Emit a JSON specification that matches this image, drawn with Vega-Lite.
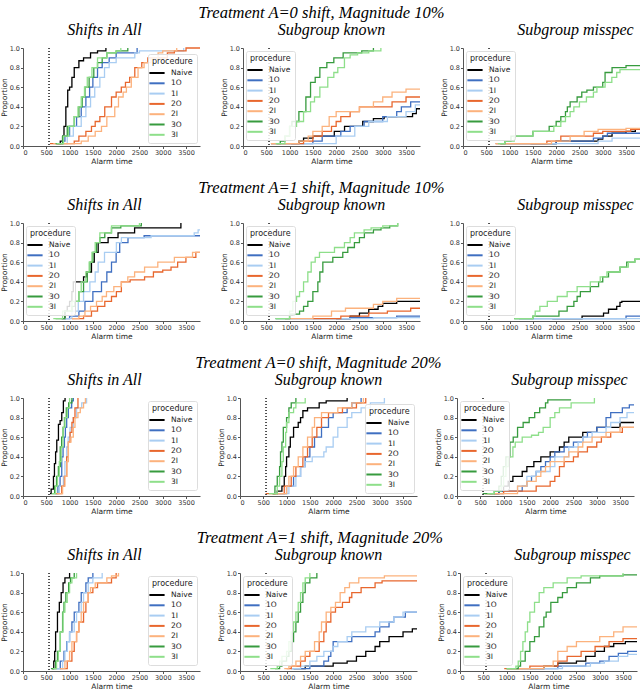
{
  "$schema": "https://vega.github.io/schema/vega-lite/v6.json",
  "padding": {"left": 0, "right": 0, "top": 4, "bottom": 0},
  "background": "white",
  "spacing": 14,
  "datasets": {
    "d11": [
      {"p":"Naive","x":720,"y":0.025},{"p":"Naive","x":800,"y":0.05},{"p":"Naive","x":850,"y":0.1},{"p":"Naive","x":880,"y":0.2},{"p":"Naive","x":920,"y":0.4},{"p":"Naive","x":960,"y":0.57},{"p":"Naive","x":1000,"y":0.6},{"p":"Naive","x":1050,"y":0.7},{"p":"Naive","x":1100,"y":0.8},{"p":"Naive","x":1200,"y":0.87},{"p":"Naive","x":1300,"y":0.9},{"p":"Naive","x":1450,"y":0.95},{"p":"Naive","x":1600,"y":0.97},{"p":"Naive","x":1780,"y":1},
      {"p":"1O","x":760,"y":0.025},{"p":"1O","x":850,"y":0.05},{"p":"1O","x":900,"y":0.1},{"p":"1O","x":1000,"y":0.2},{"p":"1O","x":1150,"y":0.3},{"p":"1O","x":1250,"y":0.4},{"p":"1O","x":1350,"y":0.5},{"p":"1O","x":1430,"y":0.6},{"p":"1O","x":1500,"y":0.7},{"p":"1O","x":1600,"y":0.8},{"p":"1O","x":1700,"y":0.85},{"p":"1O","x":1850,"y":0.9},{"p":"1O","x":2000,"y":0.95},{"p":"1O","x":2450,"y":1},
      {"p":"1I","x":800,"y":0.025},{"p":"1I","x":950,"y":0.1},{"p":"1I","x":1080,"y":0.2},{"p":"1I","x":1250,"y":0.3},{"p":"1I","x":1350,"y":0.4},{"p":"1I","x":1450,"y":0.5},{"p":"1I","x":1540,"y":0.6},{"p":"1I","x":1650,"y":0.7},{"p":"1I","x":1750,"y":0.8},{"p":"1I","x":1850,"y":0.85},{"p":"1I","x":2000,"y":0.9},{"p":"1I","x":2400,"y":0.95},{"p":"1I","x":2500,"y":0.97},{"p":"1I","x":3450,"y":1},
      {"p":"2O","x":580,"y":0.025},{"p":"2O","x":1100,"y":0.05},{"p":"2O","x":1200,"y":0.1},{"p":"2O","x":1350,"y":0.15},{"p":"2O","x":1470,"y":0.2},{"p":"2O","x":1550,"y":0.25},{"p":"2O","x":1650,"y":0.3},{"p":"2O","x":1755,"y":0.4},{"p":"2O","x":1900,"y":0.5},{"p":"2O","x":2000,"y":0.55},{"p":"2O","x":2110,"y":0.6},{"p":"2O","x":2200,"y":0.65},{"p":"2O","x":2290,"y":0.7},{"p":"2O","x":2400,"y":0.8},{"p":"2O","x":2550,"y":0.85},{"p":"2O","x":2680,"y":0.9},{"p":"2O","x":3100,"y":0.95},{"p":"2O","x":3250,"y":0.97},{"p":"2O","x":3500,"y":1},{"p":"2O","x":3800,"y":1},
      {"p":"2I","x":650,"y":0.025},{"p":"2I","x":1250,"y":0.05},{"p":"2I","x":1400,"y":0.1},{"p":"2I","x":1550,"y":0.15},{"p":"2I","x":1685,"y":0.2},{"p":"2I","x":1800,"y":0.3},{"p":"2I","x":1970,"y":0.4},{"p":"2I","x":2050,"y":0.5},{"p":"2I","x":2150,"y":0.55},{"p":"2I","x":2220,"y":0.6},{"p":"2I","x":2325,"y":0.7},{"p":"2I","x":2470,"y":0.8},{"p":"2I","x":2600,"y":0.85},{"p":"2I","x":2750,"y":0.9},{"p":"2I","x":2900,"y":0.95},{"p":"2I","x":3000,"y":0.97},{"p":"2I","x":3300,"y":1},
      {"p":"3O","x":700,"y":0.025},{"p":"3O","x":850,"y":0.1},{"p":"3O","x":950,"y":0.2},{"p":"3O","x":1100,"y":0.3},{"p":"3O","x":1200,"y":0.4},{"p":"3O","x":1270,"y":0.5},{"p":"3O","x":1330,"y":0.6},{"p":"3O","x":1420,"y":0.7},{"p":"3O","x":1520,"y":0.8},{"p":"3O","x":1600,"y":0.85},{"p":"3O","x":1700,"y":0.9},{"p":"3O","x":1800,"y":0.95},{"p":"3O","x":2000,"y":0.97},{"p":"3O","x":2250,"y":1},
      {"p":"3I","x":720,"y":0.025},{"p":"3I","x":870,"y":0.1},{"p":"3I","x":980,"y":0.2},{"p":"3I","x":1100,"y":0.3},{"p":"3I","x":1180,"y":0.4},{"p":"3I","x":1250,"y":0.5},{"p":"3I","x":1320,"y":0.6},{"p":"3I","x":1380,"y":0.7},{"p":"3I","x":1480,"y":0.8},{"p":"3I","x":1600,"y":0.9},{"p":"3I","x":1800,"y":0.95},{"p":"3I","x":2000,"y":0.97},{"p":"3I","x":2100,"y":1}
    ],
    "d12": [
      {"p":"Naive","x":1035,"y":0.025},{"p":"Naive","x":1200,"y":0.05},{"p":"Naive","x":1300,"y":0.08},{"p":"Naive","x":1500,"y":0.1},{"p":"Naive","x":1960,"y":0.15},{"p":"Naive","x":2180,"y":0.2},{"p":"Naive","x":2570,"y":0.25},{"p":"Naive","x":2800,"y":0.28},{"p":"Naive","x":3030,"y":0.3},{"p":"Naive","x":3640,"y":0.33},{"p":"Naive","x":3720,"y":0.38},{"p":"Naive","x":3800,"y":0.38},
      {"p":"1O","x":600,"y":0.025},{"p":"1O","x":1500,"y":0.05},{"p":"1O","x":1700,"y":0.1},{"p":"1O","x":2100,"y":0.15},{"p":"1O","x":2300,"y":0.2},{"p":"1O","x":2600,"y":0.25},{"p":"1O","x":3000,"y":0.3},{"p":"1O","x":3300,"y":0.35},{"p":"1O","x":3400,"y":0.4},{"p":"1O","x":3600,"y":0.45},{"p":"1O","x":3800,"y":0.45},
      {"p":"1I","x":800,"y":0.025},{"p":"1I","x":2000,"y":0.1},{"p":"1I","x":2400,"y":0.2},{"p":"1I","x":2700,"y":0.25},{"p":"1I","x":3100,"y":0.3},{"p":"1I","x":3500,"y":0.35},{"p":"1I","x":3700,"y":0.42},{"p":"1I","x":3800,"y":0.42},
      {"p":"2O","x":600,"y":0.025},{"p":"2O","x":1300,"y":0.05},{"p":"2O","x":1500,"y":0.1},{"p":"2O","x":1700,"y":0.15},{"p":"2O","x":1900,"y":0.2},{"p":"2O","x":2000,"y":0.25},{"p":"2O","x":2100,"y":0.3},{"p":"2O","x":2300,"y":0.35},{"p":"2O","x":2500,"y":0.4},{"p":"2O","x":3200,"y":0.45},{"p":"2O","x":3500,"y":0.5},{"p":"2O","x":3800,"y":0.5},
      {"p":"2I","x":600,"y":0.025},{"p":"2I","x":1200,"y":0.05},{"p":"2I","x":1400,"y":0.1},{"p":"2I","x":1500,"y":0.15},{"p":"2I","x":1700,"y":0.2},{"p":"2I","x":1850,"y":0.3},{"p":"2I","x":2000,"y":0.35},{"p":"2I","x":2500,"y":0.4},{"p":"2I","x":2800,"y":0.45},{"p":"2I","x":3000,"y":0.5},{"p":"2I","x":3200,"y":0.55},{"p":"2I","x":3500,"y":0.58},{"p":"2I","x":3800,"y":0.58},
      {"p":"3O","x":720,"y":0.025},{"p":"3O","x":800,"y":0.05},{"p":"3O","x":900,"y":0.1},{"p":"3O","x":1000,"y":0.2},{"p":"3O","x":1050,"y":0.25},{"p":"3O","x":1200,"y":0.35},{"p":"3O","x":1350,"y":0.5},{"p":"3O","x":1450,"y":0.65},{"p":"3O","x":1550,"y":0.7},{"p":"3O","x":1650,"y":0.8},{"p":"3O","x":1800,"y":0.85},{"p":"3O","x":1950,"y":0.9},{"p":"3O","x":2150,"y":0.95},{"p":"3O","x":2550,"y":0.97},{"p":"3O","x":2800,"y":1},
      {"p":"3I","x":700,"y":0.025},{"p":"3I","x":900,"y":0.1},{"p":"3I","x":1000,"y":0.2},{"p":"3I","x":1150,"y":0.25},{"p":"3I","x":1300,"y":0.35},{"p":"3I","x":1450,"y":0.45},{"p":"3I","x":1535,"y":0.5},{"p":"3I","x":1650,"y":0.6},{"p":"3I","x":1820,"y":0.7},{"p":"3I","x":1950,"y":0.75},{"p":"3I","x":2035,"y":0.8},{"p":"3I","x":2178,"y":0.9},{"p":"3I","x":2300,"y":0.93},{"p":"3I","x":2460,"y":0.95},{"p":"3I","x":2700,"y":0.97},{"p":"3I","x":2960,"y":1}
    ],
    "d13": [
      {"p":"Naive","x":1450,"y":0.025},{"p":"Naive","x":2000,"y":0.05},{"p":"Naive","x":2900,"y":0.07},{"p":"Naive","x":3000,"y":0.1},{"p":"Naive","x":3200,"y":0.13},{"p":"Naive","x":3500,"y":0.15},{"p":"Naive","x":3700,"y":0.17},{"p":"Naive","x":3800,"y":0.17},
      {"p":"1O","x":800,"y":0.025},{"p":"1O","x":2000,"y":0.05},{"p":"1O","x":2800,"y":0.08},{"p":"1O","x":3000,"y":0.1},{"p":"1O","x":3100,"y":0.13},{"p":"1O","x":3800,"y":0.13},
      {"p":"1I","x":700,"y":0.025},{"p":"1I","x":2900,"y":0.05},{"p":"1I","x":3200,"y":0.08},{"p":"1I","x":3800,"y":0.08},
      {"p":"2O","x":700,"y":0.025},{"p":"2O","x":1800,"y":0.05},{"p":"2O","x":2100,"y":0.1},{"p":"2O","x":2800,"y":0.13},{"p":"2O","x":3000,"y":0.15},{"p":"2O","x":3600,"y":0.17},{"p":"2O","x":3800,"y":0.17},
      {"p":"2I","x":700,"y":0.025},{"p":"2I","x":1900,"y":0.05},{"p":"2I","x":2300,"y":0.1},{"p":"2I","x":2600,"y":0.15},{"p":"2I","x":2900,"y":0.17},{"p":"2I","x":3500,"y":0.18},{"p":"2I","x":3800,"y":0.18},
      {"p":"3O","x":800,"y":0.025},{"p":"3O","x":900,"y":0.05},{"p":"3O","x":1030,"y":0.1},{"p":"3O","x":1500,"y":0.15},{"p":"3O","x":1850,"y":0.2},{"p":"3O","x":2000,"y":0.25},{"p":"3O","x":2100,"y":0.3},{"p":"3O","x":2200,"y":0.35},{"p":"3O","x":2240,"y":0.4},{"p":"3O","x":2300,"y":0.45},{"p":"3O","x":2450,"y":0.5},{"p":"3O","x":2550,"y":0.55},{"p":"3O","x":2660,"y":0.57},{"p":"3O","x":2800,"y":0.6},{"p":"3O","x":3000,"y":0.65},{"p":"3O","x":3050,"y":0.75},{"p":"3O","x":3200,"y":0.8},{"p":"3O","x":3500,"y":0.82},{"p":"3O","x":3800,"y":0.82},
      {"p":"3I","x":750,"y":0.025},{"p":"3I","x":900,"y":0.05},{"p":"3I","x":1100,"y":0.1},{"p":"3I","x":1500,"y":0.15},{"p":"3I","x":1950,"y":0.2},{"p":"3I","x":2100,"y":0.25},{"p":"3I","x":2200,"y":0.3},{"p":"3I","x":2300,"y":0.35},{"p":"3I","x":2380,"y":0.4},{"p":"3I","x":2500,"y":0.45},{"p":"3I","x":2650,"y":0.5},{"p":"3I","x":2800,"y":0.55},{"p":"3I","x":2875,"y":0.6},{"p":"3I","x":3050,"y":0.65},{"p":"3I","x":3195,"y":0.7},{"p":"3I","x":3300,"y":0.75},{"p":"3I","x":3370,"y":0.78},{"p":"3I","x":3800,"y":0.78}
    ],
    "d21": [
      {"p":"Naive","x":830,"y":0.025},{"p":"Naive","x":900,"y":0.1},{"p":"Naive","x":950,"y":0.15},{"p":"Naive","x":1000,"y":0.2},{"p":"Naive","x":1050,"y":0.3},{"p":"Naive","x":1080,"y":0.4},{"p":"Naive","x":1300,"y":0.45},{"p":"Naive","x":1365,"y":0.5},{"p":"Naive","x":1470,"y":0.6},{"p":"Naive","x":1530,"y":0.7},{"p":"Naive","x":1614,"y":0.8},{"p":"Naive","x":1827,"y":0.85},{"p":"Naive","x":2040,"y":0.9},{"p":"Naive","x":2396,"y":0.95},{"p":"Naive","x":3390,"y":1},
      {"p":"1O","x":900,"y":0.025},{"p":"1O","x":1000,"y":0.05},{"p":"1O","x":1200,"y":0.1},{"p":"1O","x":1330,"y":0.2},{"p":"1O","x":1500,"y":0.3},{"p":"1O","x":1685,"y":0.4},{"p":"1O","x":1800,"y":0.5},{"p":"1O","x":1900,"y":0.6},{"p":"1O","x":2000,"y":0.7},{"p":"1O","x":2076,"y":0.8},{"p":"1O","x":2254,"y":0.85},{"p":"1O","x":2600,"y":0.87},{"p":"1O","x":3800,"y":0.87},
      {"p":"1I","x":850,"y":0.025},{"p":"1I","x":1050,"y":0.1},{"p":"1I","x":1187,"y":0.2},{"p":"1I","x":1300,"y":0.3},{"p":"1I","x":1436,"y":0.4},{"p":"1I","x":1550,"y":0.5},{"p":"1I","x":1614,"y":0.6},{"p":"1I","x":1750,"y":0.7},{"p":"1I","x":2005,"y":0.8},{"p":"1I","x":2112,"y":0.85},{"p":"1I","x":2750,"y":0.87},{"p":"1I","x":3676,"y":0.9},{"p":"1I","x":3760,"y":0.93},{"p":"1I","x":3800,"y":0.93},
      {"p":"2O","x":1050,"y":0.025},{"p":"2O","x":1300,"y":0.05},{"p":"2O","x":1470,"y":0.1},{"p":"2O","x":1600,"y":0.15},{"p":"2O","x":1756,"y":0.2},{"p":"2O","x":1900,"y":0.25},{"p":"2O","x":2005,"y":0.3},{"p":"2O","x":2112,"y":0.4},{"p":"2O","x":2300,"y":0.42},{"p":"2O","x":2610,"y":0.45},{"p":"2O","x":2800,"y":0.5},{"p":"2O","x":3000,"y":0.52},{"p":"2O","x":3178,"y":0.55},{"p":"2O","x":3320,"y":0.6},{"p":"2O","x":3498,"y":0.65},{"p":"2O","x":3711,"y":0.7},{"p":"2O","x":3800,"y":0.7},
      {"p":"2I","x":1050,"y":0.025},{"p":"2I","x":1200,"y":0.05},{"p":"2I","x":1330,"y":0.1},{"p":"2I","x":1450,"y":0.15},{"p":"2I","x":1578,"y":0.2},{"p":"2I","x":1700,"y":0.25},{"p":"2I","x":1792,"y":0.3},{"p":"2I","x":1950,"y":0.35},{"p":"2I","x":2112,"y":0.4},{"p":"2I","x":2250,"y":0.45},{"p":"2I","x":2396,"y":0.5},{"p":"2I","x":2610,"y":0.55},{"p":"2I","x":2894,"y":0.6},{"p":"2I","x":3250,"y":0.65},{"p":"2I","x":3640,"y":0.7},{"p":"2I","x":3800,"y":0.7},
      {"p":"3O","x":700,"y":0.025},{"p":"3O","x":900,"y":0.1},{"p":"3O","x":1050,"y":0.15},{"p":"3O","x":1116,"y":0.2},{"p":"3O","x":1200,"y":0.3},{"p":"3O","x":1300,"y":0.4},{"p":"3O","x":1380,"y":0.5},{"p":"3O","x":1436,"y":0.6},{"p":"3O","x":1500,"y":0.7},{"p":"3O","x":1578,"y":0.8},{"p":"3O","x":1650,"y":0.85},{"p":"3O","x":1756,"y":0.9},{"p":"3O","x":1900,"y":0.95},{"p":"3O","x":2100,"y":0.97},{"p":"3O","x":2540,"y":1},
      {"p":"3I","x":650,"y":0.025},{"p":"3I","x":850,"y":0.1},{"p":"3I","x":1050,"y":0.2},{"p":"3I","x":1200,"y":0.3},{"p":"3I","x":1250,"y":0.4},{"p":"3I","x":1350,"y":0.5},{"p":"3I","x":1420,"y":0.6},{"p":"3I","x":1480,"y":0.7},{"p":"3I","x":1550,"y":0.8},{"p":"3I","x":1650,"y":0.9},{"p":"3I","x":1900,"y":0.97},{"p":"3I","x":2500,"y":1}
    ],
    "d22": [
      {"p":"Naive","x":2000,"y":0.025},{"p":"Naive","x":2300,"y":0.05},{"p":"Naive","x":2500,"y":0.08},{"p":"Naive","x":2700,"y":0.12},{"p":"Naive","x":2900,"y":0.15},{"p":"Naive","x":3000,"y":0.18},{"p":"Naive","x":3300,"y":0.2},{"p":"Naive","x":3800,"y":0.2},
      {"p":"1O","x":900,"y":0.025},{"p":"1O","x":2300,"y":0.035},{"p":"1O","x":3300,"y":0.05},{"p":"1O","x":3800,"y":0.05},
      {"p":"1I","x":700,"y":0.025},{"p":"1I","x":2800,"y":0.035},{"p":"1I","x":3800,"y":0.035},
      {"p":"2O","x":1500,"y":0.025},{"p":"2O","x":2100,"y":0.05},{"p":"2O","x":2700,"y":0.08},{"p":"2O","x":3100,"y":0.1},{"p":"2O","x":3600,"y":0.13},{"p":"2O","x":3800,"y":0.13},
      {"p":"2I","x":900,"y":0.025},{"p":"2I","x":1500,"y":0.05},{"p":"2I","x":1900,"y":0.1},{"p":"2I","x":2200,"y":0.13},{"p":"2I","x":2800,"y":0.17},{"p":"2I","x":3000,"y":0.2},{"p":"2I","x":3300,"y":0.23},{"p":"2I","x":3800,"y":0.23},
      {"p":"3O","x":700,"y":0.025},{"p":"3O","x":1000,"y":0.07},{"p":"3O","x":1214,"y":0.1},{"p":"3O","x":1300,"y":0.15},{"p":"3O","x":1392,"y":0.2},{"p":"3O","x":1500,"y":0.3},{"p":"3O","x":1607,"y":0.4},{"p":"3O","x":1650,"y":0.5},{"p":"3O","x":1714,"y":0.6},{"p":"3O","x":1928,"y":0.65},{"p":"3O","x":2142,"y":0.7},{"p":"3O","x":2250,"y":0.75},{"p":"3O","x":2392,"y":0.8},{"p":"3O","x":2500,"y":0.85},{"p":"3O","x":2606,"y":0.9},{"p":"3O","x":2800,"y":0.93},{"p":"3O","x":2963,"y":0.95},{"p":"3O","x":3150,"y":0.97},{"p":"3O","x":3320,"y":1},
      {"p":"3I","x":700,"y":0.025},{"p":"3I","x":1000,"y":0.1},{"p":"3I","x":1071,"y":0.2},{"p":"3I","x":1150,"y":0.25},{"p":"3I","x":1214,"y":0.3},{"p":"3I","x":1300,"y":0.4},{"p":"3I","x":1392,"y":0.5},{"p":"3I","x":1464,"y":0.6},{"p":"3I","x":1550,"y":0.65},{"p":"3I","x":1642,"y":0.7},{"p":"3I","x":1964,"y":0.75},{"p":"3I","x":2178,"y":0.8},{"p":"3I","x":2300,"y":0.85},{"p":"3I","x":2392,"y":0.9},{"p":"3I","x":2600,"y":0.93},{"p":"3I","x":2750,"y":0.95},{"p":"3I","x":3000,"y":0.97},{"p":"3I","x":3320,"y":1}
    ],
    "d23": [
      {"p":"Naive","x":1917,"y":0.025},{"p":"Naive","x":2556,"y":0.05},{"p":"Naive","x":3017,"y":0.08},{"p":"Naive","x":3124,"y":0.12},{"p":"Naive","x":3300,"y":0.15},{"p":"Naive","x":3370,"y":0.19},{"p":"Naive","x":3410,"y":0.2},{"p":"Naive","x":3800,"y":0.2},
      {"p":"1O","x":1200,"y":0.025},{"p":"1O","x":3500,"y":0.05},{"p":"1O","x":3800,"y":0.05},
      {"p":"1I","x":1100,"y":0.025},{"p":"1I","x":3800,"y":0.025},
      {"p":"3O","x":1100,"y":0.025},{"p":"3O","x":1500,"y":0.05},{"p":"3O","x":2060,"y":0.1},{"p":"3O","x":2236,"y":0.15},{"p":"3O","x":2380,"y":0.2},{"p":"3O","x":2450,"y":0.25},{"p":"3O","x":2520,"y":0.3},{"p":"3O","x":2733,"y":0.35},{"p":"3O","x":2911,"y":0.4},{"p":"3O","x":3000,"y":0.45},{"p":"3O","x":3124,"y":0.5},{"p":"3O","x":3370,"y":0.55},{"p":"3O","x":3515,"y":0.6},{"p":"3O","x":3690,"y":0.63},{"p":"3O","x":3800,"y":0.63},
      {"p":"3I","x":1100,"y":0.025},{"p":"3I","x":1500,"y":0.05},{"p":"3I","x":1550,"y":0.1},{"p":"3I","x":1650,"y":0.15},{"p":"3I","x":1810,"y":0.2},{"p":"3I","x":2024,"y":0.25},{"p":"3I","x":2236,"y":0.3},{"p":"3I","x":2450,"y":0.35},{"p":"3I","x":2733,"y":0.4},{"p":"3I","x":2946,"y":0.45},{"p":"3I","x":3090,"y":0.5},{"p":"3I","x":3370,"y":0.55},{"p":"3I","x":3550,"y":0.6},{"p":"3I","x":3690,"y":0.63},{"p":"3I","x":3800,"y":0.63}
    ],
    "d31": [
      {"p":"Naive","x":580,"y":0.025},{"p":"Naive","x":604,"y":0.07},{"p":"Naive","x":654,"y":0.2},{"p":"Naive","x":675,"y":0.33},{"p":"Naive","x":700,"y":0.45},{"p":"Naive","x":725,"y":0.57},{"p":"Naive","x":761,"y":0.73},{"p":"Naive","x":796,"y":0.77},{"p":"Naive","x":832,"y":0.85},{"p":"Naive","x":867,"y":0.97},{"p":"Naive","x":903,"y":1},
      {"p":"1O","x":690,"y":0.025},{"p":"1O","x":750,"y":0.1},{"p":"1O","x":796,"y":0.2},{"p":"1O","x":832,"y":0.4},{"p":"1O","x":860,"y":0.5},{"p":"1O","x":889,"y":0.6},{"p":"1O","x":910,"y":0.7},{"p":"1O","x":938,"y":0.8},{"p":"1O","x":974,"y":0.9},{"p":"1O","x":1045,"y":0.97},{"p":"1O","x":1080,"y":1},
      {"p":"1I","x":700,"y":0.025},{"p":"1I","x":780,"y":0.1},{"p":"1I","x":867,"y":0.2},{"p":"1I","x":900,"y":0.35},{"p":"1I","x":938,"y":0.5},{"p":"1I","x":970,"y":0.6},{"p":"1I","x":1010,"y":0.7},{"p":"1I","x":1080,"y":0.8},{"p":"1I","x":1150,"y":0.9},{"p":"1I","x":1260,"y":0.95},{"p":"1I","x":1365,"y":1},
      {"p":"2O","x":700,"y":0.025},{"p":"2O","x":832,"y":0.1},{"p":"2O","x":889,"y":0.2},{"p":"2O","x":938,"y":0.4},{"p":"2O","x":974,"y":0.55},{"p":"2O","x":1010,"y":0.65},{"p":"2O","x":1050,"y":0.75},{"p":"2O","x":1080,"y":0.8},{"p":"2O","x":1116,"y":0.9},{"p":"2O","x":1180,"y":1},
      {"p":"2I","x":720,"y":0.025},{"p":"2I","x":850,"y":0.1},{"p":"2I","x":900,"y":0.2},{"p":"2I","x":940,"y":0.35},{"p":"2I","x":974,"y":0.55},{"p":"2I","x":1030,"y":0.6},{"p":"2I","x":1080,"y":0.7},{"p":"2I","x":1116,"y":0.8},{"p":"2I","x":1180,"y":0.85},{"p":"2I","x":1230,"y":0.9},{"p":"2I","x":1300,"y":0.95},{"p":"2I","x":1340,"y":1},
      {"p":"3O","x":620,"y":0.025},{"p":"3O","x":680,"y":0.1},{"p":"3O","x":720,"y":0.2},{"p":"3O","x":760,"y":0.3},{"p":"3O","x":800,"y":0.5},{"p":"3O","x":830,"y":0.6},{"p":"3O","x":860,"y":0.7},{"p":"3O","x":890,"y":0.8},{"p":"3O","x":930,"y":0.9},{"p":"3O","x":980,"y":0.95},{"p":"3O","x":1050,"y":1},
      {"p":"3I","x":620,"y":0.025},{"p":"3I","x":700,"y":0.1},{"p":"3I","x":740,"y":0.2},{"p":"3I","x":780,"y":0.35},{"p":"3I","x":820,"y":0.5},{"p":"3I","x":860,"y":0.7},{"p":"3I","x":900,"y":0.8},{"p":"3I","x":950,"y":0.9},{"p":"3I","x":1000,"y":1}
    ],
    "d32": [
      {"p":"Naive","x":700,"y":0.025},{"p":"Naive","x":800,"y":0.05},{"p":"Naive","x":900,"y":0.1},{"p":"Naive","x":950,"y":0.2},{"p":"Naive","x":980,"y":0.3},{"p":"Naive","x":1000,"y":0.4},{"p":"Naive","x":1050,"y":0.5},{"p":"Naive","x":1080,"y":0.6},{"p":"Naive","x":1150,"y":0.7},{"p":"Naive","x":1250,"y":0.75},{"p":"Naive","x":1300,"y":0.8},{"p":"Naive","x":1350,"y":0.87},{"p":"Naive","x":1450,"y":0.9},{"p":"Naive","x":1700,"y":0.95},{"p":"Naive","x":1850,"y":0.97},{"p":"Naive","x":2300,"y":1},
      {"p":"1O","x":800,"y":0.025},{"p":"1O","x":1000,"y":0.1},{"p":"1O","x":1150,"y":0.2},{"p":"1O","x":1300,"y":0.3},{"p":"1O","x":1400,"y":0.4},{"p":"1O","x":1500,"y":0.5},{"p":"1O","x":1600,"y":0.6},{"p":"1O","x":1750,"y":0.7},{"p":"1O","x":1900,"y":0.8},{"p":"1O","x":2000,"y":0.85},{"p":"1O","x":2300,"y":0.9},{"p":"1O","x":2400,"y":0.95},{"p":"1O","x":2600,"y":1},
      {"p":"1I","x":850,"y":0.025},{"p":"1I","x":1050,"y":0.1},{"p":"1I","x":1200,"y":0.2},{"p":"1I","x":1300,"y":0.3},{"p":"1I","x":1400,"y":0.35},{"p":"1I","x":1550,"y":0.4},{"p":"1I","x":1800,"y":0.45},{"p":"1I","x":1850,"y":0.5},{"p":"1I","x":2000,"y":0.6},{"p":"1I","x":2100,"y":0.7},{"p":"1I","x":2300,"y":0.8},{"p":"1I","x":2400,"y":0.85},{"p":"1I","x":2600,"y":0.9},{"p":"1I","x":2800,"y":0.95},{"p":"1I","x":3100,"y":1},
      {"p":"2O","x":550,"y":0.025},{"p":"2O","x":950,"y":0.1},{"p":"2O","x":1100,"y":0.2},{"p":"2O","x":1200,"y":0.3},{"p":"2O","x":1350,"y":0.4},{"p":"2O","x":1450,"y":0.5},{"p":"2O","x":1550,"y":0.6},{"p":"2O","x":1650,"y":0.7},{"p":"2O","x":1750,"y":0.8},{"p":"2O","x":1900,"y":0.85},{"p":"2O","x":2200,"y":0.9},{"p":"2O","x":2500,"y":0.95},{"p":"2O","x":2700,"y":1},
      {"p":"2I","x":700,"y":0.025},{"p":"2I","x":1000,"y":0.1},{"p":"2I","x":1050,"y":0.2},{"p":"2I","x":1150,"y":0.3},{"p":"2I","x":1250,"y":0.4},{"p":"2I","x":1350,"y":0.5},{"p":"2I","x":1450,"y":0.6},{"p":"2I","x":1550,"y":0.7},{"p":"2I","x":1600,"y":0.8},{"p":"2I","x":1750,"y":0.85},{"p":"2I","x":2100,"y":0.9},{"p":"2I","x":2400,"y":0.95},{"p":"2I","x":2650,"y":1},
      {"p":"3O","x":700,"y":0.025},{"p":"3O","x":750,"y":0.1},{"p":"3O","x":800,"y":0.2},{"p":"3O","x":850,"y":0.3},{"p":"3O","x":870,"y":0.45},{"p":"3O","x":900,"y":0.55},{"p":"3O","x":930,"y":0.7},{"p":"3O","x":1000,"y":0.8},{"p":"3O","x":1050,"y":0.9},{"p":"3O","x":1100,"y":0.95},{"p":"3O","x":1200,"y":1},
      {"p":"3I","x":620,"y":0.025},{"p":"3I","x":800,"y":0.1},{"p":"3I","x":850,"y":0.2},{"p":"3I","x":900,"y":0.35},{"p":"3I","x":930,"y":0.5},{"p":"3I","x":980,"y":0.65},{"p":"3I","x":1000,"y":0.75},{"p":"3I","x":1050,"y":0.85},{"p":"3I","x":1150,"y":0.9},{"p":"3I","x":1200,"y":0.95},{"p":"3I","x":1400,"y":1}
    ],
    "d33": [
      {"p":"Naive","x":800,"y":0.025},{"p":"Naive","x":900,"y":0.05},{"p":"Naive","x":1000,"y":0.1},{"p":"Naive","x":1100,"y":0.15},{"p":"Naive","x":1200,"y":0.2},{"p":"Naive","x":1400,"y":0.25},{"p":"Naive","x":1500,"y":0.3},{"p":"Naive","x":1650,"y":0.35},{"p":"Naive","x":1800,"y":0.4},{"p":"Naive","x":2000,"y":0.45},{"p":"Naive","x":2200,"y":0.5},{"p":"Naive","x":2300,"y":0.55},{"p":"Naive","x":2400,"y":0.6},{"p":"Naive","x":2700,"y":0.65},{"p":"Naive","x":3000,"y":0.7},{"p":"Naive","x":3500,"y":0.75},{"p":"Naive","x":3800,"y":0.75},
      {"p":"1O","x":700,"y":0.025},{"p":"1O","x":900,"y":0.05},{"p":"1O","x":1400,"y":0.1},{"p":"1O","x":1500,"y":0.15},{"p":"1O","x":1600,"y":0.2},{"p":"1O","x":1700,"y":0.25},{"p":"1O","x":1800,"y":0.3},{"p":"1O","x":1900,"y":0.35},{"p":"1O","x":2000,"y":0.4},{"p":"1O","x":2100,"y":0.45},{"p":"1O","x":2300,"y":0.5},{"p":"1O","x":2500,"y":0.55},{"p":"1O","x":2700,"y":0.6},{"p":"1O","x":2800,"y":0.65},{"p":"1O","x":3000,"y":0.7},{"p":"1O","x":3200,"y":0.8},{"p":"1O","x":3300,"y":0.85},{"p":"1O","x":3550,"y":0.9},{"p":"1O","x":3700,"y":0.93},{"p":"1O","x":3800,"y":0.93},
      {"p":"1I","x":700,"y":0.025},{"p":"1I","x":1000,"y":0.05},{"p":"1I","x":1300,"y":0.1},{"p":"1I","x":1500,"y":0.2},{"p":"1I","x":1700,"y":0.25},{"p":"1I","x":2000,"y":0.3},{"p":"1I","x":2100,"y":0.4},{"p":"1I","x":2400,"y":0.5},{"p":"1I","x":2600,"y":0.55},{"p":"1I","x":2700,"y":0.6},{"p":"1I","x":2900,"y":0.65},{"p":"1I","x":3200,"y":0.7},{"p":"1I","x":3300,"y":0.75},{"p":"1I","x":3500,"y":0.8},{"p":"1I","x":3650,"y":0.85},{"p":"1I","x":3800,"y":0.85},
      {"p":"2O","x":600,"y":0.025},{"p":"2O","x":1000,"y":0.05},{"p":"2O","x":1700,"y":0.1},{"p":"2O","x":2000,"y":0.15},{"p":"2O","x":2100,"y":0.2},{"p":"2O","x":2200,"y":0.3},{"p":"2O","x":2300,"y":0.35},{"p":"2O","x":2500,"y":0.4},{"p":"2O","x":2600,"y":0.45},{"p":"2O","x":2800,"y":0.5},{"p":"2O","x":3000,"y":0.55},{"p":"2O","x":3100,"y":0.6},{"p":"2O","x":3300,"y":0.65},{"p":"2O","x":3550,"y":0.7},{"p":"2O","x":3800,"y":0.7},
      {"p":"2I","x":650,"y":0.025},{"p":"2I","x":1300,"y":0.1},{"p":"2I","x":1500,"y":0.15},{"p":"2I","x":1700,"y":0.2},{"p":"2I","x":1800,"y":0.25},{"p":"2I","x":1900,"y":0.3},{"p":"2I","x":2000,"y":0.35},{"p":"2I","x":2300,"y":0.4},{"p":"2I","x":2400,"y":0.45},{"p":"2I","x":2600,"y":0.5},{"p":"2I","x":2700,"y":0.55},{"p":"2I","x":2900,"y":0.6},{"p":"2I","x":3200,"y":0.65},{"p":"2I","x":3500,"y":0.7},{"p":"2I","x":3800,"y":0.7},
      {"p":"3O","x":550,"y":0.025},{"p":"3O","x":800,"y":0.05},{"p":"3O","x":900,"y":0.1},{"p":"3O","x":950,"y":0.2},{"p":"3O","x":994,"y":0.3},{"p":"3O","x":1050,"y":0.4},{"p":"3O","x":1136,"y":0.55},{"p":"3O","x":1207,"y":0.6},{"p":"3O","x":1300,"y":0.7},{"p":"3O","x":1420,"y":0.75},{"p":"3O","x":1550,"y":0.8},{"p":"3O","x":1668,"y":0.85},{"p":"3O","x":1775,"y":0.9},{"p":"3O","x":1900,"y":0.95},{"p":"3O","x":1950,"y":0.98},{"p":"3O","x":2450,"y":0.98},
      {"p":"3I","x":650,"y":0.025},{"p":"3I","x":800,"y":0.05},{"p":"3I","x":950,"y":0.1},{"p":"3I","x":1000,"y":0.2},{"p":"3I","x":1050,"y":0.3},{"p":"3I","x":1100,"y":0.4},{"p":"3I","x":1200,"y":0.5},{"p":"3I","x":1250,"y":0.55},{"p":"3I","x":1400,"y":0.6},{"p":"3I","x":1600,"y":0.62},{"p":"3I","x":1750,"y":0.65},{"p":"3I","x":1850,"y":0.7},{"p":"3I","x":2000,"y":0.8},{"p":"3I","x":2100,"y":0.85},{"p":"3I","x":2200,"y":0.9},{"p":"3I","x":2450,"y":0.95},{"p":"3I","x":2950,"y":1}
    ],
    "d41": [
      {"p":"Naive","x":620,"y":0.025},{"p":"Naive","x":660,"y":0.1},{"p":"Naive","x":680,"y":0.2},{"p":"Naive","x":700,"y":0.4},{"p":"Naive","x":740,"y":0.6},{"p":"Naive","x":780,"y":0.7},{"p":"Naive","x":820,"y":0.8},{"p":"Naive","x":860,"y":0.9},{"p":"Naive","x":900,"y":0.95},{"p":"Naive","x":1000,"y":1},
      {"p":"1O","x":700,"y":0.025},{"p":"1O","x":800,"y":0.1},{"p":"1O","x":880,"y":0.2},{"p":"1O","x":940,"y":0.3},{"p":"1O","x":1000,"y":0.4},{"p":"1O","x":1050,"y":0.5},{"p":"1O","x":1100,"y":0.6},{"p":"1O","x":1200,"y":0.7},{"p":"1O","x":1250,"y":0.8},{"p":"1O","x":1350,"y":0.9},{"p":"1O","x":1400,"y":0.95},{"p":"1O","x":1500,"y":1},
      {"p":"1I","x":720,"y":0.025},{"p":"1I","x":850,"y":0.1},{"p":"1I","x":900,"y":0.2},{"p":"1I","x":950,"y":0.3},{"p":"1I","x":1000,"y":0.4},{"p":"1I","x":1100,"y":0.5},{"p":"1I","x":1150,"y":0.6},{"p":"1I","x":1250,"y":0.7},{"p":"1I","x":1300,"y":0.8},{"p":"1I","x":1400,"y":0.9},{"p":"1I","x":1500,"y":0.95},{"p":"1I","x":1700,"y":1},
      {"p":"2O","x":800,"y":0.025},{"p":"2O","x":950,"y":0.1},{"p":"2O","x":1050,"y":0.2},{"p":"2O","x":1100,"y":0.3},{"p":"2O","x":1150,"y":0.4},{"p":"2O","x":1200,"y":0.5},{"p":"2O","x":1300,"y":0.6},{"p":"2O","x":1350,"y":0.7},{"p":"2O","x":1400,"y":0.8},{"p":"2O","x":1500,"y":0.85},{"p":"2O","x":1600,"y":0.9},{"p":"2O","x":1900,"y":0.95},{"p":"2O","x":2000,"y":1},
      {"p":"2I","x":800,"y":0.025},{"p":"2I","x":900,"y":0.1},{"p":"2I","x":1000,"y":0.2},{"p":"2I","x":1050,"y":0.3},{"p":"2I","x":1150,"y":0.4},{"p":"2I","x":1200,"y":0.5},{"p":"2I","x":1250,"y":0.6},{"p":"2I","x":1300,"y":0.7},{"p":"2I","x":1400,"y":0.8},{"p":"2I","x":1450,"y":0.85},{"p":"2I","x":1550,"y":0.9},{"p":"2I","x":1800,"y":0.95},{"p":"2I","x":1900,"y":0.97},{"p":"2I","x":2050,"y":1},
      {"p":"3O","x":600,"y":0.025},{"p":"3O","x":700,"y":0.1},{"p":"3O","x":740,"y":0.2},{"p":"3O","x":800,"y":0.4},{"p":"3O","x":850,"y":0.6},{"p":"3O","x":880,"y":0.7},{"p":"3O","x":920,"y":0.8},{"p":"3O","x":980,"y":0.9},{"p":"3O","x":1020,"y":0.95},{"p":"3O","x":1100,"y":1},
      {"p":"3I","x":640,"y":0.025},{"p":"3I","x":720,"y":0.1},{"p":"3I","x":760,"y":0.2},{"p":"3I","x":800,"y":0.4},{"p":"3I","x":860,"y":0.6},{"p":"3I","x":900,"y":0.7},{"p":"3I","x":950,"y":0.8},{"p":"3I","x":1000,"y":0.9},{"p":"3I","x":1050,"y":0.95},{"p":"3I","x":1150,"y":1}
    ],
    "d42": [
      {"p":"Naive","x":1150,"y":0.025},{"p":"Naive","x":1400,"y":0.05},{"p":"Naive","x":2000,"y":0.08},{"p":"Naive","x":2300,"y":0.1},{"p":"Naive","x":2500,"y":0.15},{"p":"Naive","x":2700,"y":0.2},{"p":"Naive","x":2900,"y":0.25},{"p":"Naive","x":3000,"y":0.3},{"p":"Naive","x":3200,"y":0.35},{"p":"Naive","x":3500,"y":0.4},{"p":"Naive","x":3700,"y":0.43},{"p":"Naive","x":3800,"y":0.43},
      {"p":"1O","x":1100,"y":0.025},{"p":"1O","x":1500,"y":0.05},{"p":"1O","x":1800,"y":0.1},{"p":"1O","x":1900,"y":0.15},{"p":"1O","x":1950,"y":0.2},{"p":"1O","x":2000,"y":0.3},{"p":"1O","x":2400,"y":0.35},{"p":"1O","x":2900,"y":0.4},{"p":"1O","x":3000,"y":0.45},{"p":"1O","x":3200,"y":0.5},{"p":"1O","x":3300,"y":0.55},{"p":"1O","x":3550,"y":0.6},{"p":"1O","x":3800,"y":0.6},
      {"p":"1I","x":1100,"y":0.025},{"p":"1I","x":1300,"y":0.05},{"p":"1I","x":1500,"y":0.1},{"p":"1I","x":1650,"y":0.15},{"p":"1I","x":1800,"y":0.2},{"p":"1I","x":2000,"y":0.25},{"p":"1I","x":2100,"y":0.3},{"p":"1I","x":2300,"y":0.35},{"p":"1I","x":2400,"y":0.4},{"p":"1I","x":2700,"y":0.45},{"p":"1I","x":3000,"y":0.5},{"p":"1I","x":3300,"y":0.55},{"p":"1I","x":3500,"y":0.6},{"p":"1I","x":3800,"y":0.6},
      {"p":"2O","x":1000,"y":0.025},{"p":"2O","x":1100,"y":0.05},{"p":"2O","x":1300,"y":0.1},{"p":"2O","x":1400,"y":0.15},{"p":"2O","x":1500,"y":0.2},{"p":"2O","x":1700,"y":0.3},{"p":"2O","x":1800,"y":0.4},{"p":"2O","x":1850,"y":0.5},{"p":"2O","x":1950,"y":0.6},{"p":"2O","x":2050,"y":0.65},{"p":"2O","x":2200,"y":0.7},{"p":"2O","x":2350,"y":0.75},{"p":"2O","x":2400,"y":0.8},{"p":"2O","x":2600,"y":0.85},{"p":"2O","x":2900,"y":0.9},{"p":"2O","x":3050,"y":0.92},{"p":"2O","x":3800,"y":0.92},
      {"p":"2I","x":950,"y":0.025},{"p":"2I","x":1050,"y":0.05},{"p":"2I","x":1200,"y":0.1},{"p":"2I","x":1300,"y":0.15},{"p":"2I","x":1400,"y":0.2},{"p":"2I","x":1600,"y":0.3},{"p":"2I","x":1700,"y":0.4},{"p":"2I","x":1750,"y":0.5},{"p":"2I","x":1850,"y":0.6},{"p":"2I","x":1950,"y":0.65},{"p":"2I","x":2050,"y":0.7},{"p":"2I","x":2150,"y":0.8},{"p":"2I","x":2250,"y":0.85},{"p":"2I","x":2350,"y":0.9},{"p":"2I","x":2550,"y":0.95},{"p":"2I","x":3100,"y":0.97},{"p":"2I","x":3800,"y":0.97},
      {"p":"3O","x":750,"y":0.025},{"p":"3O","x":850,"y":0.05},{"p":"3O","x":900,"y":0.1},{"p":"3O","x":1000,"y":0.15},{"p":"3O","x":1050,"y":0.2},{"p":"3O","x":1100,"y":0.3},{"p":"3O","x":1150,"y":0.4},{"p":"3O","x":1200,"y":0.5},{"p":"3O","x":1250,"y":0.6},{"p":"3O","x":1300,"y":0.7},{"p":"3O","x":1350,"y":0.8},{"p":"3O","x":1400,"y":0.9},{"p":"3O","x":1500,"y":0.95},{"p":"3O","x":1650,"y":1},
      {"p":"3I","x":650,"y":0.025},{"p":"3I","x":800,"y":0.05},{"p":"3I","x":850,"y":0.1},{"p":"3I","x":900,"y":0.15},{"p":"3I","x":1000,"y":0.2},{"p":"3I","x":1050,"y":0.3},{"p":"3I","x":1100,"y":0.4},{"p":"3I","x":1150,"y":0.5},{"p":"3I","x":1200,"y":0.6},{"p":"3I","x":1250,"y":0.7},{"p":"3I","x":1300,"y":0.8},{"p":"3I","x":1350,"y":0.9},{"p":"3I","x":1400,"y":0.95},{"p":"3I","x":1500,"y":1}
    ],
    "d43": [
      {"p":"Naive","x":1500,"y":0.025},{"p":"Naive","x":1800,"y":0.05},{"p":"Naive","x":2100,"y":0.08},{"p":"Naive","x":2500,"y":0.1},{"p":"Naive","x":2700,"y":0.15},{"p":"Naive","x":2900,"y":0.2},{"p":"Naive","x":3100,"y":0.25},{"p":"Naive","x":3300,"y":0.28},{"p":"Naive","x":3550,"y":0.3},{"p":"Naive","x":3800,"y":0.3},
      {"p":"1O","x":1200,"y":0.025},{"p":"1O","x":2100,"y":0.05},{"p":"1O","x":2700,"y":0.08},{"p":"1O","x":3000,"y":0.1},{"p":"1O","x":3200,"y":0.15},{"p":"1O","x":3400,"y":0.18},{"p":"1O","x":3600,"y":0.2},{"p":"1O","x":3800,"y":0.2},
      {"p":"1I","x":1000,"y":0.025},{"p":"1I","x":2200,"y":0.05},{"p":"1I","x":2800,"y":0.08},{"p":"1I","x":3100,"y":0.1},{"p":"1I","x":3400,"y":0.15},{"p":"1I","x":3600,"y":0.17},{"p":"1I","x":3800,"y":0.17},
      {"p":"2O","x":950,"y":0.025},{"p":"2O","x":1500,"y":0.05},{"p":"2O","x":2100,"y":0.1},{"p":"2O","x":2300,"y":0.15},{"p":"2O","x":2600,"y":0.2},{"p":"2O","x":2900,"y":0.25},{"p":"2O","x":3200,"y":0.3},{"p":"2O","x":3500,"y":0.33},{"p":"2O","x":3800,"y":0.33},
      {"p":"2I","x":1000,"y":0.025},{"p":"2I","x":1800,"y":0.05},{"p":"2I","x":2000,"y":0.1},{"p":"2I","x":2100,"y":0.2},{"p":"2I","x":2300,"y":0.25},{"p":"2I","x":2500,"y":0.3},{"p":"2I","x":3000,"y":0.35},{"p":"2I","x":3300,"y":0.4},{"p":"2I","x":3500,"y":0.45},{"p":"2I","x":3800,"y":0.45},
      {"p":"3O","x":1000,"y":0.025},{"p":"3O","x":1250,"y":0.05},{"p":"3O","x":1300,"y":0.1},{"p":"3O","x":1400,"y":0.2},{"p":"3O","x":1500,"y":0.3},{"p":"3O","x":1600,"y":0.35},{"p":"3O","x":1700,"y":0.45},{"p":"3O","x":1800,"y":0.55},{"p":"3O","x":1850,"y":0.6},{"p":"3O","x":1950,"y":0.7},{"p":"3O","x":2100,"y":0.75},{"p":"3O","x":2200,"y":0.8},{"p":"3O","x":2300,"y":0.85},{"p":"3O","x":2500,"y":0.9},{"p":"3O","x":2800,"y":0.95},{"p":"3O","x":3000,"y":0.97},{"p":"3O","x":3500,"y":0.98},{"p":"3O","x":3800,"y":0.98},
      {"p":"3I","x":1000,"y":0.025},{"p":"3I","x":1200,"y":0.05},{"p":"3I","x":1250,"y":0.1},{"p":"3I","x":1300,"y":0.2},{"p":"3I","x":1350,"y":0.3},{"p":"3I","x":1400,"y":0.4},{"p":"3I","x":1450,"y":0.5},{"p":"3I","x":1500,"y":0.6},{"p":"3I","x":1600,"y":0.7},{"p":"3I","x":1700,"y":0.8},{"p":"3I","x":1800,"y":0.85},{"p":"3I","x":2000,"y":0.9},{"p":"3I","x":2300,"y":0.95},{"p":"3I","x":2600,"y":0.97},{"p":"3I","x":3500,"y":1}
    ]
  },
  "vconcat": [
    {
      "title": {"text": "Treatment A=0 shift, Magnitude 10%", "fontSize": 16.5, "offset": 1},
      "spacing": 17,
      "resolve": {"scale": {"color": "independent"}, "legend": {"color": "independent"}},
      "hconcat": [
        {"width": 177, "height": 98, "title": {"text": "Shifts in All", "dx": -7}, "data": {"name": "d11"},
         "layer": [
          {"mark": {"type": "line", "interpolate": "step-after", "strokeWidth": 1.3},
           "encoding": {
            "x": {"field": "x", "type": "quantitative", "scale": {"domain": [0, 3800], "nice": false}, "axis": {"values": [0, 500, 1000, 1500, 2000, 2500, 3000, 3500], "format": "d", "title": "Alarm time"}},
            "y": {"field": "y", "type": "quantitative", "scale": {"domain": [0, 1]}, "axis": {"values": [0, 0.2, 0.4, 0.6, 0.8, 1], "format": ".1f", "title": "Proportion"}},
            "color": {"field": "p", "type": "nominal", "scale": {"domain": ["Naive", "1O", "1I", "2O", "2I", "3O", "3I"], "range": ["#000000", "#3f6fc1", "#a9cdf2", "#e8672e", "#fcb27d", "#379b3e", "#8edf8a"]}, "legend": {"title": "procedure", "orient": "bottom-right"}}
           }},
          {"mark": {"type": "rule", "color": "#555555", "strokeDash": [1, 2], "strokeWidth": 0.7}, "encoding": {"x": {"datum": 550, "type": "quantitative", "scale": {"domain": [0, 3800], "nice": false}, "axis": {"values": [0, 500, 1000, 1500, 2000, 2500, 3000, 3500], "format": "d", "title": "Alarm time"}}}}
         ]},
        {"width": 177, "height": 98, "title": {"text": "Subgroup known"}, "data": {"name": "d12"},
         "layer": [
          {"mark": {"type": "line", "interpolate": "step-after", "strokeWidth": 1.3},
           "encoding": {
            "x": {"field": "x", "type": "quantitative", "scale": {"domain": [0, 3800], "nice": false}, "axis": {"values": [0, 500, 1000, 1500, 2000, 2500, 3000, 3500], "format": "d", "title": "Alarm time"}},
            "y": {"field": "y", "type": "quantitative", "scale": {"domain": [0, 1]}, "axis": {"values": [0, 0.2, 0.4, 0.6, 0.8, 1], "format": ".1f", "title": "Proportion"}},
            "color": {"field": "p", "type": "nominal", "scale": {"domain": ["Naive", "1O", "1I", "2O", "2I", "3O", "3I"], "range": ["#000000", "#3f6fc1", "#a9cdf2", "#e8672e", "#fcb27d", "#379b3e", "#8edf8a"]}, "legend": {"title": "procedure", "orient": "top-left"}}
           }},
          {"mark": {"type": "rule", "color": "#555555", "strokeDash": [1, 2], "strokeWidth": 0.7}, "encoding": {"x": {"datum": 550, "type": "quantitative", "scale": {"domain": [0, 3800], "nice": false}, "axis": {"values": [0, 500, 1000, 1500, 2000, 2500, 3000, 3500], "format": "d", "title": "Alarm time"}}}}
         ]},
        {"width": 177, "height": 98, "title": {"text": "Subgroup misspec", "dx": 24}, "data": {"name": "d13"},
         "layer": [
          {"mark": {"type": "line", "interpolate": "step-after", "strokeWidth": 1.3},
           "encoding": {
            "x": {"field": "x", "type": "quantitative", "scale": {"domain": [0, 3800], "nice": false}, "axis": {"values": [0, 500, 1000, 1500, 2000, 2500, 3000, 3500], "format": "d", "title": "Alarm time"}},
            "y": {"field": "y", "type": "quantitative", "scale": {"domain": [0, 1]}, "axis": {"values": [0, 0.2, 0.4, 0.6, 0.8, 1], "format": ".1f", "title": "Proportion"}},
            "color": {"field": "p", "type": "nominal", "scale": {"domain": ["Naive", "1O", "1I", "2O", "2I", "3O", "3I"], "range": ["#000000", "#3f6fc1", "#a9cdf2", "#e8672e", "#fcb27d", "#379b3e", "#8edf8a"]}, "legend": {"title": "procedure", "orient": "top-left"}}
           }},
          {"mark": {"type": "rule", "color": "#555555", "strokeDash": [1, 2], "strokeWidth": 0.7}, "encoding": {"x": {"datum": 550, "type": "quantitative", "scale": {"domain": [0, 3800], "nice": false}, "axis": {"values": [0, 500, 1000, 1500, 2000, 2500, 3000, 3500], "format": "d", "title": "Alarm time"}}}}
         ]}
      ]
    },
    {
      "title": {"text": "Treatment A=1 shift, Magnitude 10%", "fontSize": 16.5, "offset": 1},
      "spacing": 17,
      "resolve": {"scale": {"color": "independent"}, "legend": {"color": "independent"}},
      "hconcat": [
        {"width": 177, "height": 98, "title": {"text": "Shifts in All", "dx": -7}, "data": {"name": "d21"},
         "layer": [
          {"mark": {"type": "line", "interpolate": "step-after", "strokeWidth": 1.3},
           "encoding": {
            "x": {"field": "x", "type": "quantitative", "scale": {"domain": [0, 3800], "nice": false}, "axis": {"values": [0, 500, 1000, 1500, 2000, 2500, 3000, 3500], "format": "d", "title": "Alarm time"}},
            "y": {"field": "y", "type": "quantitative", "scale": {"domain": [0, 1]}, "axis": {"values": [0, 0.2, 0.4, 0.6, 0.8, 1], "format": ".1f", "title": "Proportion"}},
            "color": {"field": "p", "type": "nominal", "scale": {"domain": ["Naive", "1O", "1I", "2O", "2I", "3O", "3I"], "range": ["#000000", "#3f6fc1", "#a9cdf2", "#e8672e", "#fcb27d", "#379b3e", "#8edf8a"]}, "legend": {"title": "procedure", "orient": "top-left"}}
           }},
          {"mark": {"type": "rule", "color": "#555555", "strokeDash": [1, 2], "strokeWidth": 0.7}, "encoding": {"x": {"datum": 550, "type": "quantitative", "scale": {"domain": [0, 3800], "nice": false}, "axis": {"values": [0, 500, 1000, 1500, 2000, 2500, 3000, 3500], "format": "d", "title": "Alarm time"}}}}
         ]},
        {"width": 177, "height": 98, "title": {"text": "Subgroup known"}, "data": {"name": "d22"},
         "layer": [
          {"mark": {"type": "line", "interpolate": "step-after", "strokeWidth": 1.3},
           "encoding": {
            "x": {"field": "x", "type": "quantitative", "scale": {"domain": [0, 3800], "nice": false}, "axis": {"values": [0, 500, 1000, 1500, 2000, 2500, 3000, 3500], "format": "d", "title": "Alarm time"}},
            "y": {"field": "y", "type": "quantitative", "scale": {"domain": [0, 1]}, "axis": {"values": [0, 0.2, 0.4, 0.6, 0.8, 1], "format": ".1f", "title": "Proportion"}},
            "color": {"field": "p", "type": "nominal", "scale": {"domain": ["Naive", "1O", "1I", "2O", "2I", "3O", "3I"], "range": ["#000000", "#3f6fc1", "#a9cdf2", "#e8672e", "#fcb27d", "#379b3e", "#8edf8a"]}, "legend": {"title": "procedure", "orient": "top-left"}}
           }},
          {"mark": {"type": "rule", "color": "#555555", "strokeDash": [1, 2], "strokeWidth": 0.7}, "encoding": {"x": {"datum": 550, "type": "quantitative", "scale": {"domain": [0, 3800], "nice": false}, "axis": {"values": [0, 500, 1000, 1500, 2000, 2500, 3000, 3500], "format": "d", "title": "Alarm time"}}}}
         ]},
        {"width": 177, "height": 98, "title": {"text": "Subgroup misspec", "dx": 24}, "data": {"name": "d23"},
         "layer": [
          {"mark": {"type": "line", "interpolate": "step-after", "strokeWidth": 1.3},
           "encoding": {
            "x": {"field": "x", "type": "quantitative", "scale": {"domain": [0, 3800], "nice": false}, "axis": {"values": [0, 500, 1000, 1500, 2000, 2500, 3000, 3500], "format": "d", "title": "Alarm time"}},
            "y": {"field": "y", "type": "quantitative", "scale": {"domain": [0, 1]}, "axis": {"values": [0, 0.2, 0.4, 0.6, 0.8, 1], "format": ".1f", "title": "Proportion"}},
            "color": {"field": "p", "type": "nominal", "scale": {"domain": ["Naive", "1O", "1I", "2O", "2I", "3O", "3I"], "range": ["#000000", "#3f6fc1", "#a9cdf2", "#e8672e", "#fcb27d", "#379b3e", "#8edf8a"]}, "legend": {"title": "procedure", "orient": "top-left"}}
           }},
          {"mark": {"type": "rule", "color": "#555555", "strokeDash": [1, 2], "strokeWidth": 0.7}, "encoding": {"x": {"datum": 550, "type": "quantitative", "scale": {"domain": [0, 3800], "nice": false}, "axis": {"values": [0, 500, 1000, 1500, 2000, 2500, 3000, 3500], "format": "d", "title": "Alarm time"}}}}
         ]}
      ]
    },
    {
      "title": {"text": "Treatment A=0 shift, Magnitude 20%", "fontSize": 16.5, "offset": 1},
      "spacing": 17,
      "resolve": {"scale": {"color": "independent"}, "legend": {"color": "independent"}},
      "hconcat": [
        {"width": 177, "height": 98, "title": {"text": "Shifts in All", "dx": -7}, "data": {"name": "d31"},
         "layer": [
          {"mark": {"type": "line", "interpolate": "step-after", "strokeWidth": 1.3},
           "encoding": {
            "x": {"field": "x", "type": "quantitative", "scale": {"domain": [0, 3800], "nice": false}, "axis": {"values": [0, 500, 1000, 1500, 2000, 2500, 3000, 3500], "format": "d", "title": "Alarm time"}},
            "y": {"field": "y", "type": "quantitative", "scale": {"domain": [0, 1]}, "axis": {"values": [0, 0.2, 0.4, 0.6, 0.8, 1], "format": ".1f", "title": "Proportion"}},
            "color": {"field": "p", "type": "nominal", "scale": {"domain": ["Naive", "1O", "1I", "2O", "2I", "3O", "3I"], "range": ["#000000", "#3f6fc1", "#a9cdf2", "#e8672e", "#fcb27d", "#379b3e", "#8edf8a"]}, "legend": {"title": "procedure", "orient": "top-right"}}
           }},
          {"mark": {"type": "rule", "color": "#555555", "strokeDash": [1, 2], "strokeWidth": 0.7}, "encoding": {"x": {"datum": 550, "type": "quantitative", "scale": {"domain": [0, 3800], "nice": false}, "axis": {"values": [0, 500, 1000, 1500, 2000, 2500, 3000, 3500], "format": "d", "title": "Alarm time"}}}}
         ]},
        {"width": 177, "height": 98, "title": {"text": "Subgroup known"}, "data": {"name": "d32"},
         "layer": [
          {"mark": {"type": "line", "interpolate": "step-after", "strokeWidth": 1.3},
           "encoding": {
            "x": {"field": "x", "type": "quantitative", "scale": {"domain": [0, 3800], "nice": false}, "axis": {"values": [0, 500, 1000, 1500, 2000, 2500, 3000, 3500], "format": "d", "title": "Alarm time"}},
            "y": {"field": "y", "type": "quantitative", "scale": {"domain": [0, 1]}, "axis": {"values": [0, 0.2, 0.4, 0.6, 0.8, 1], "format": ".1f", "title": "Proportion"}},
            "color": {"field": "p", "type": "nominal", "scale": {"domain": ["Naive", "1O", "1I", "2O", "2I", "3O", "3I"], "range": ["#000000", "#3f6fc1", "#a9cdf2", "#e8672e", "#fcb27d", "#379b3e", "#8edf8a"]}, "legend": {"title": "procedure", "orient": "bottom-right"}}
           }},
          {"mark": {"type": "rule", "color": "#555555", "strokeDash": [1, 2], "strokeWidth": 0.7}, "encoding": {"x": {"datum": 550, "type": "quantitative", "scale": {"domain": [0, 3800], "nice": false}, "axis": {"values": [0, 500, 1000, 1500, 2000, 2500, 3000, 3500], "format": "d", "title": "Alarm time"}}}}
         ]},
        {"width": 177, "height": 98, "title": {"text": "Subgroup misspec", "dx": 24}, "data": {"name": "d33"},
         "layer": [
          {"mark": {"type": "line", "interpolate": "step-after", "strokeWidth": 1.3},
           "encoding": {
            "x": {"field": "x", "type": "quantitative", "scale": {"domain": [0, 3800], "nice": false}, "axis": {"values": [0, 500, 1000, 1500, 2000, 2500, 3000, 3500], "format": "d", "title": "Alarm time"}},
            "y": {"field": "y", "type": "quantitative", "scale": {"domain": [0, 1]}, "axis": {"values": [0, 0.2, 0.4, 0.6, 0.8, 1], "format": ".1f", "title": "Proportion"}},
            "color": {"field": "p", "type": "nominal", "scale": {"domain": ["Naive", "1O", "1I", "2O", "2I", "3O", "3I"], "range": ["#000000", "#3f6fc1", "#a9cdf2", "#e8672e", "#fcb27d", "#379b3e", "#8edf8a"]}, "legend": {"title": "procedure", "orient": "top-left"}}
           }},
          {"mark": {"type": "rule", "color": "#555555", "strokeDash": [1, 2], "strokeWidth": 0.7}, "encoding": {"x": {"datum": 550, "type": "quantitative", "scale": {"domain": [0, 3800], "nice": false}, "axis": {"values": [0, 500, 1000, 1500, 2000, 2500, 3000, 3500], "format": "d", "title": "Alarm time"}}}}
         ]}
      ]
    },
    {
      "title": {"text": "Treatment A=1 shift, Magnitude 20%", "fontSize": 16.5, "offset": 1},
      "spacing": 17,
      "resolve": {"scale": {"color": "independent"}, "legend": {"color": "independent"}},
      "hconcat": [
        {"width": 177, "height": 98, "title": {"text": "Shifts in All", "dx": -7}, "data": {"name": "d41"},
         "layer": [
          {"mark": {"type": "line", "interpolate": "step-after", "strokeWidth": 1.3},
           "encoding": {
            "x": {"field": "x", "type": "quantitative", "scale": {"domain": [0, 3800], "nice": false}, "axis": {"values": [0, 500, 1000, 1500, 2000, 2500, 3000, 3500], "format": "d", "title": "Alarm time"}},
            "y": {"field": "y", "type": "quantitative", "scale": {"domain": [0, 1]}, "axis": {"values": [0, 0.2, 0.4, 0.6, 0.8, 1], "format": ".1f", "title": "Proportion"}},
            "color": {"field": "p", "type": "nominal", "scale": {"domain": ["Naive", "1O", "1I", "2O", "2I", "3O", "3I"], "range": ["#000000", "#3f6fc1", "#a9cdf2", "#e8672e", "#fcb27d", "#379b3e", "#8edf8a"]}, "legend": {"title": "procedure", "orient": "top-right"}}
           }},
          {"mark": {"type": "rule", "color": "#555555", "strokeDash": [1, 2], "strokeWidth": 0.7}, "encoding": {"x": {"datum": 550, "type": "quantitative", "scale": {"domain": [0, 3800], "nice": false}, "axis": {"values": [0, 500, 1000, 1500, 2000, 2500, 3000, 3500], "format": "d", "title": "Alarm time"}}}}
         ]},
        {"width": 177, "height": 98, "title": {"text": "Subgroup known"}, "data": {"name": "d42"},
         "layer": [
          {"mark": {"type": "line", "interpolate": "step-after", "strokeWidth": 1.3},
           "encoding": {
            "x": {"field": "x", "type": "quantitative", "scale": {"domain": [0, 3800], "nice": false}, "axis": {"values": [0, 500, 1000, 1500, 2000, 2500, 3000, 3500], "format": "d", "title": "Alarm time"}},
            "y": {"field": "y", "type": "quantitative", "scale": {"domain": [0, 1]}, "axis": {"values": [0, 0.2, 0.4, 0.6, 0.8, 1], "format": ".1f", "title": "Proportion"}},
            "color": {"field": "p", "type": "nominal", "scale": {"domain": ["Naive", "1O", "1I", "2O", "2I", "3O", "3I"], "range": ["#000000", "#3f6fc1", "#a9cdf2", "#e8672e", "#fcb27d", "#379b3e", "#8edf8a"]}, "legend": {"title": "procedure", "orient": "top-left"}}
           }},
          {"mark": {"type": "rule", "color": "#555555", "strokeDash": [1, 2], "strokeWidth": 0.7}, "encoding": {"x": {"datum": 550, "type": "quantitative", "scale": {"domain": [0, 3800], "nice": false}, "axis": {"values": [0, 500, 1000, 1500, 2000, 2500, 3000, 3500], "format": "d", "title": "Alarm time"}}}}
         ]},
        {"width": 177, "height": 98, "title": {"text": "Subgroup misspec", "dx": 24}, "data": {"name": "d43"},
         "layer": [
          {"mark": {"type": "line", "interpolate": "step-after", "strokeWidth": 1.3},
           "encoding": {
            "x": {"field": "x", "type": "quantitative", "scale": {"domain": [0, 3800], "nice": false}, "axis": {"values": [0, 500, 1000, 1500, 2000, 2500, 3000, 3500], "format": "d", "title": "Alarm time"}},
            "y": {"field": "y", "type": "quantitative", "scale": {"domain": [0, 1]}, "axis": {"values": [0, 0.2, 0.4, 0.6, 0.8, 1], "format": ".1f", "title": "Proportion"}},
            "color": {"field": "p", "type": "nominal", "scale": {"domain": ["Naive", "1O", "1I", "2O", "2I", "3O", "3I"], "range": ["#000000", "#3f6fc1", "#a9cdf2", "#e8672e", "#fcb27d", "#379b3e", "#8edf8a"]}, "legend": {"title": "procedure", "orient": "top-left"}}
           }},
          {"mark": {"type": "rule", "color": "#555555", "strokeDash": [1, 2], "strokeWidth": 0.7}, "encoding": {"x": {"datum": 550, "type": "quantitative", "scale": {"domain": [0, 3800], "nice": false}, "axis": {"values": [0, 500, 1000, 1500, 2000, 2500, 3000, 3500], "format": "d", "title": "Alarm time"}}}}
         ]}
      ]
    }
  ],
  "resolve": {"scale": {"color": "independent"}, "legend": {"color": "independent"}},
  "config": {
    "view": {"stroke": null},
    "font": "DejaVu Sans",
    "title": {"font": "Liberation Serif", "fontStyle": "italic", "fontWeight": "normal", "fontSize": 16, "color": "#000000", "offset": 7, "anchor": "middle"},
    "axis": {"grid": false, "labelFontSize": 6.5, "titleFontSize": 7.5, "titleFontWeight": "normal", "labelColor": "#333333", "titleColor": "#222222", "domainColor": "#555555", "tickColor": "#555555", "tickSize": 2.5, "labelPadding": 1, "titlePadding": 1, "labelFont": "DejaVu Sans", "titleFont": "DejaVu Sans"},
    "legend": {"titleFontSize": 8, "titleFontWeight": "normal", "titleColor": "#222222", "titleFont": "DejaVu Sans", "labelFont": "DejaVu Sans", "labelFontSize": 7.5, "labelColor": "#222222", "symbolType": "M-1.9,0L1.9,0", "symbolSize": 64, "symbolStrokeWidth": 2, "rowPadding": 1.3, "padding": 4, "offset": 3, "strokeColor": "#dddddd", "fillColor": "rgba(255,255,255,0.85)", "cornerRadius": 2, "labelOffset": 9, "titlePadding": 2}
  }
}
